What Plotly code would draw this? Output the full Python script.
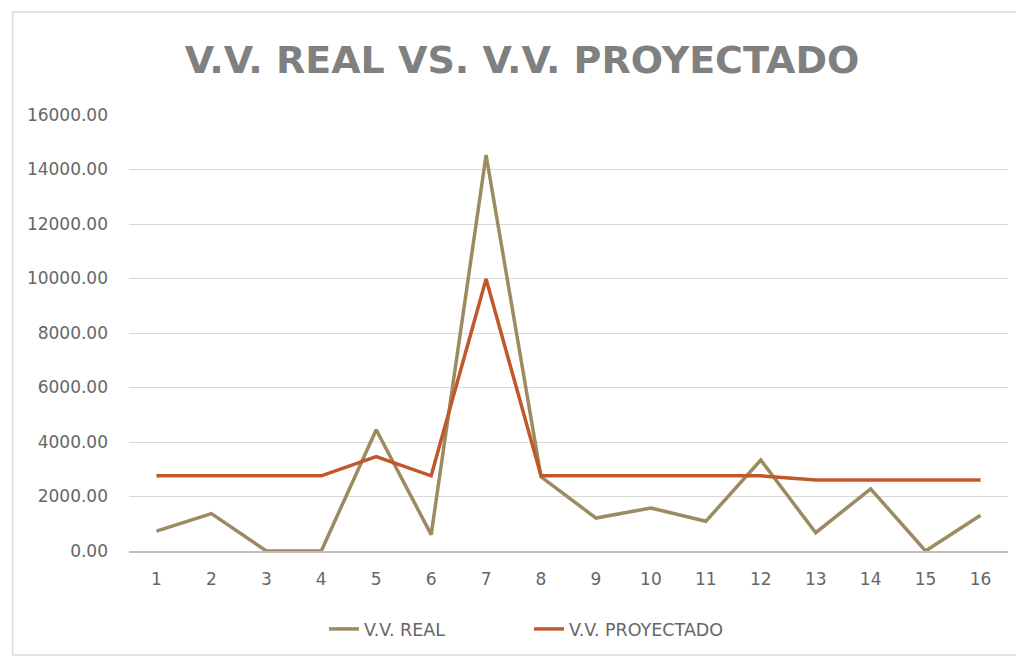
import plotly.graph_objects as go

# data
periodos = [str(i) for i in range(1, 17)]
vv_real = [730, 1370, 0, 0, 4450, 600, 14530, 2720, 1210, 1580, 1090, 3340, 670, 2280, 0, 1310]
vv_proyectado = [2760, 2760, 2760, 2760, 3460, 2760, 9980, 2760, 2760, 2760, 2760, 2760, 2610, 2610, 2610, 2610]
y_ticks = [0, 2000, 4000, 6000, 8000, 10000, 12000, 14000, 16000]

fig = go.Figure()
fig.add_trace(go.Scatter(x=periodos, y=vv_real, mode="lines", name="V.V. REAL",
                         line=dict(color="#9C8B5E", width=3.5)))
fig.add_trace(go.Scatter(x=periodos, y=vv_proyectado, mode="lines", name="V.V. PROYECTADO",
                         line=dict(color="#C0582B", width=3.5)))

# the page puts the figure 8px in from the top-left corner
fig.update_layout(
    width=1024, height=657,
    margin=dict(l=120.5, r=23.5, t=107, b=114),
    paper_bgcolor="white", plot_bgcolor="white",
    title=dict(text="<b>V.V. REAL VS. V.V. PROYECTADO</b>", x=0.502, xanchor="center",
               y=0.921, yanchor="middle",
               font=dict(family="DejaVu Sans", size=38, color="#808080")),
    font=dict(family="DejaVu Sans", size=17, color="#666666"),
    legend=dict(orientation="h", x=0.455, xanchor="center", y=-0.179, yanchor="middle",
                entrywidth=160, entrywidthmode="pixels",
                font=dict(size=17.5, color="#666666")),
    showlegend=True,
)
fig.update_xaxes(type="category", range=[-0.5, 15.5], showgrid=False,
                 showline=True, linecolor="#BFBFBF", linewidth=1.5,
                 ticks="", tickfont=dict(size=17), ticklabelstandoff=12)
fig.update_yaxes(range=[0, 16000], tickvals=y_ticks,
                 ticktext=[f"{v:.2f}" for v in y_ticks],
                 showgrid=True, gridcolor="#D9D9D9", gridwidth=1.2,
                 zeroline=False, showline=False, ticks="",
                 tickfont=dict(size=17), ticklabelstandoff=20)

# outer chart border
fig.add_shape(type="rect", xref="paper", yref="paper",
              x0=-0.1324, x1=1.013, y0=-0.2385, y1=1.236,
              line=dict(color="#D9D9D9", width=1.5), layer="below")

fig.write_html("out.html")
